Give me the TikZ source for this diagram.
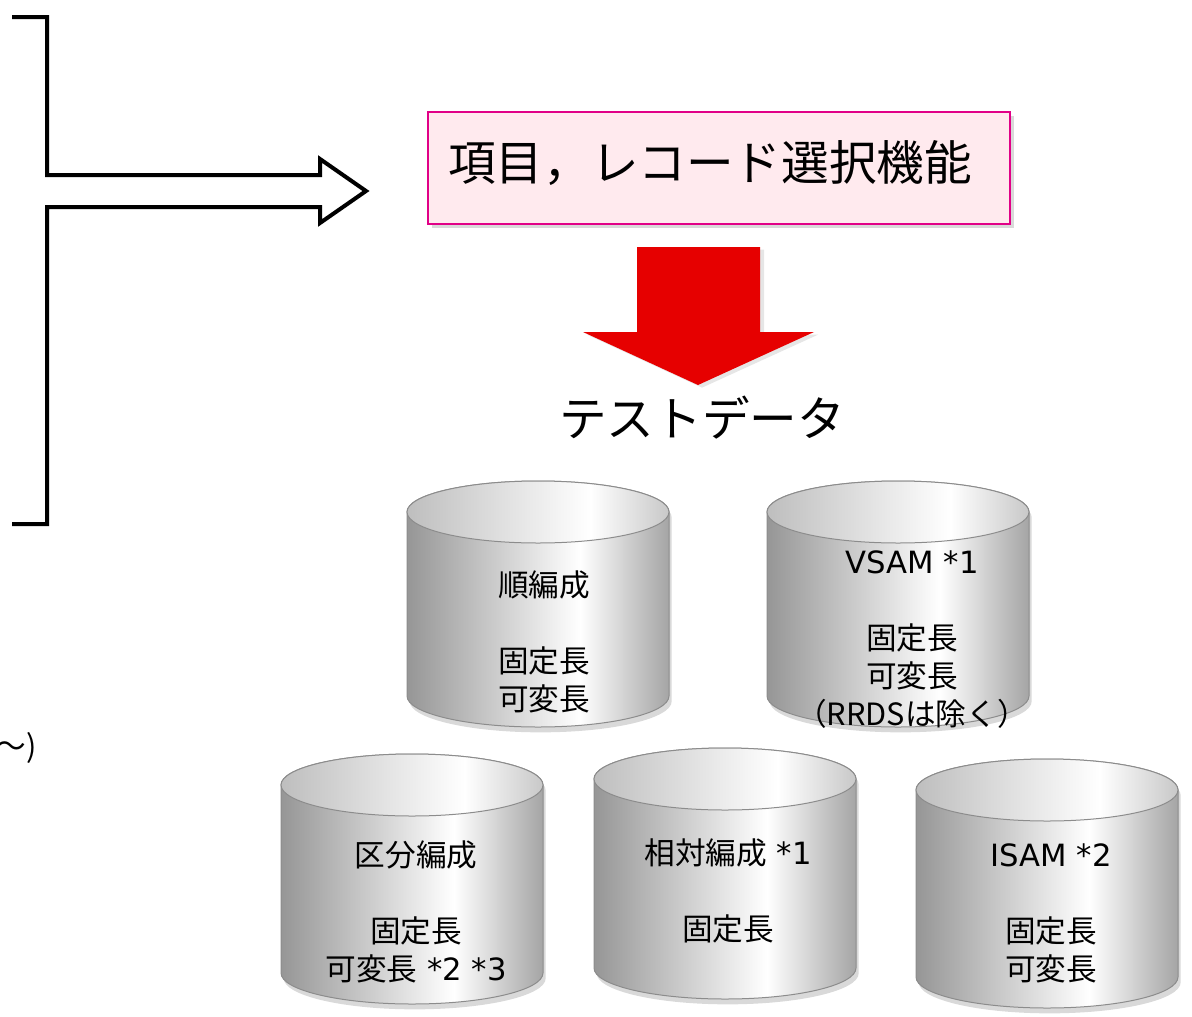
\documentclass[tikz,border=0pt]{standalone}
\usepackage{fontspec}
\setmainfont{Noto Sans CJK JP}
\newfontfamily\latinfont{DejaVu Sans}
\usetikzlibrary{shadows}
\newcommand{\dbf}{\fontsize{23}{28.5}\selectfont}
\newcommand{\bigf}{\fontsize{35.7}{40}\selectfont}
\definecolor{cylL}{RGB}{150,150,150}
\definecolor{cylR}{RGB}{165,165,165}
\definecolor{topL}{RGB}{190,190,190}
\definecolor{topR}{RGB}{200,200,200}
\definecolor{selpink}{RGB}{225,0,135}
\definecolor{selfill}{RGB}{255,234,238}
\definecolor{arrowred}{RGB}{230,0,0}
\pgfdeclarehorizontalshading{cylbody}{100bp}{color(0bp)=(cylL); color(25bp)=(cylL); color(58bp)=(white); color(75bp)=(cylR); color(100bp)=(cylR)}
\pgfdeclarehorizontalshading{cyltop}{100bp}{color(0bp)=(topL); color(25bp)=(topL); color(60bp)=(white); color(75bp)=(topR); color(100bp)=(topR)}

\begin{document}
\begin{tikzpicture}[x=0.75pt,y=-0.75pt,
    selbox/.style={draw=selpink,line width=1.5pt,fill=selfill,minimum width=436pt,minimum height=84pt,
      drop shadow={shadow xshift=3pt,shadow yshift=-3pt,opacity=0.3}},
    dbtext/.style={align=center,font=\dbf,inner sep=0pt}]
     \useasboundingbox (0,0) rectangle (1192,1017);
     \draw[line width=3pt,line join=miter] (12,17) -- (47,17) -- (47,175) -- (320,175) -- (320,159)
       -- (366,191) -- (320,223) -- (320,207) -- (47,207) -- (47,524) -- (12,524);
     \node[anchor=east,font=\dbf,inner sep=0pt] (tilde) at (37,748) {～)};
     \node[selbox] (sel) at (719,167.5) {};
     \node[inner sep=0pt] (seltext) at (710,163) {\bigf 項目，レコード選択機能};
     \fill[arrowred,drop shadow={shadow xshift=3pt,shadow yshift=-2pt,opacity=0.2}]
       (637,247) -- (760,247) -- (760,332) -- (814,332) -- (698,385) -- (583,332) -- (637,332) -- cycle;
     \node[inner sep=0pt] (test) at (702,418) {\bigf テストデータ};
     \foreach \cx/\ty/\by in {538/512/696, 898/512/696, 412/785/973, 725/779/968, 1047/790/977} {
      \draw[draw=gray!90,line width=0.75pt,shading=cylbody,
        drop shadow={shadow xshift=2pt,shadow yshift=-4pt,opacity=0.3}]
        (\cx-131,\ty) -- (\cx-131,\by) arc[start angle=180,end angle=0,x radius=131,y radius=31]
        -- (\cx+131,\ty) arc[start angle=0,end angle=-180,x radius=131,y radius=31] -- cycle;
      \draw[draw=gray!90,line width=0.75pt,shading=cyltop] (\cx,\ty) ellipse[x radius=131,y radius=31];
     }
     \node[dbtext] (seqtext) at (544,642) {順編成\\[28.5pt]固定長\\可変長};
     \node[dbtext] (vsamtext) at (912,640) {{\latinfont VSAM *1}\\[28.5pt]固定長\\可変長\\（RRDSは除く）};
     \node[dbtext] (pdstext) at (416,911.5) {区分編成\\[28.5pt]固定長\\可変長{\latinfont\ *2 *3}};
     \node[dbtext] (reltext) at (728,890.5) {相対編成{\latinfont\ *1}\\[28.5pt]固定長};
     \node[dbtext] (isamtext) at (1051,913.5) {{\latinfont ISAM *2}\\[28.5pt]固定長\\可変長};
    \end{tikzpicture}
\end{document}
